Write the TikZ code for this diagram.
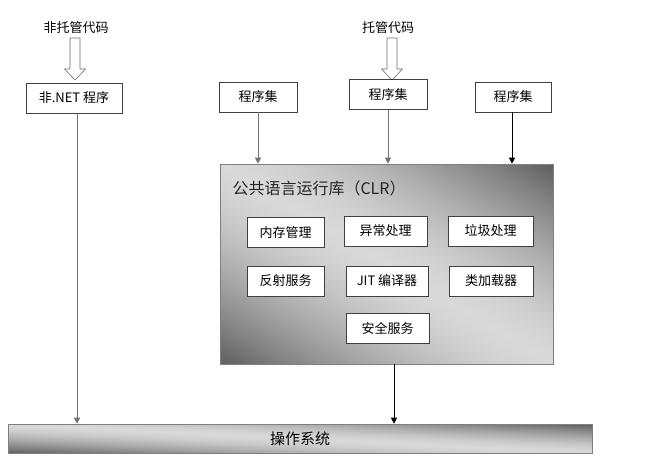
\documentclass[tikz,border=0pt]{standalone}
\usepackage{fontspec}
\setmainfont{Noto Sans CJK SC}
\usepackage{xcolor}
\usetikzlibrary{arrows.meta,positioning,calc,shadows}
\definecolor{archline}{RGB}{64,64,64}
% light along the falling diagonal, dark at the two other corners
\pgfdeclarefunctionalshading{archshade}{\pgfpointorigin}{\pgfpoint{100bp}{100bp}}{}{%
  add 100 sub 50 div abs 1.5 exp 0.48 mul 0.85 exch sub dup dup}
\begin{document}
\begin{tikzpicture}[x=1pt,y=-1pt,
  font=\fontsize{13}{15}\selectfont,
  box/.style={draw=archline,line width=.6pt,fill=white,inner sep=0pt,minimum height=30pt},
  layer/.style={draw=gray,line width=.6pt,shade,shading=archshade,shading angle=0,inner sep=0pt,
    drop shadow={shadow xshift=1.2pt,shadow yshift=-1.2pt,opacity=.25}},
  label/.style={inner sep=1pt},
  flow/.style={-{Triangle[length=6pt,width=6pt]},draw=black,line width=.6pt},
  softflow/.style={flow,draw=gray!90!black},
  hollow/.pic={\draw[draw=gray!85!black,fill=white,line width=.6pt]
    (-5,0)--(5,0)--(5,31)--(10.5,31)--(0,42)--(-10.5,31)--(-5,31)--cycle;}]

\path[use as bounding box] (0,0) rectangle (648,464);

% unmanaged side
\node[label] (umlabel) at (76,28) {非托管代码};
\node[box,minimum width=96pt] (netprog) at (74,98) {非.NET 程序};
\pic at (75,38) {hollow};

% managed side
\node[label] (mlabel) at (388,28) {托管代码};
\pic at (392,38) {hollow};
\node[box,minimum width=78pt] (asma) at (258,97) {程序集};
\node[box,minimum width=78pt] (asmb) at (388,94.5) {程序集};
\node[box,minimum width=76pt] (asmc) at (513,97) {程序集};

% runtime
\node[layer,minimum width=333pt,minimum height=200pt] (clr) at (386.5,264) {};
\node[anchor=west,font=\fontsize{16}{18}\selectfont,text=black!85] (clrtitle) at (229,188) {公共语言运行库（CLR）};
\node[box,minimum width=77pt] (memory) at (285.5,232.5) {内存管理};
\node[box,minimum width=83pt] (except) at (385.5,231) {异常处理};
\node[box,minimum width=85pt] (garbage) at (490.5,231) {垃圾处理};
\node[box,minimum width=77pt] (reflect) at (285.5,281) {反射服务};
\node[box,minimum width=82pt] (jit) at (387,281) {JIT 编译器};
\node[box,minimum width=84pt] (loader) at (491,281) {类加载器};
\node[box,minimum width=83pt] (security) at (387.5,328) {安全服务};

% operating system
\node[layer,minimum width=584pt,minimum height=29pt,font=\fontsize{15}{17}\selectfont] (os) at (300,438.5) {操作系统};

\draw[softflow] ([xshift=3pt]netprog.south) -- ([xshift=3pt]netprog.south |- os.north);
\draw[softflow] (asma.south) -- (asma.south |- clr.north);
\draw[softflow] (asmb.south) -- (asmb.south |- clr.north);
\draw[flow] ([xshift=-1pt]asmc.south) -- ([xshift=-1pt]asmc.south |- clr.north);
\draw[flow] ([xshift=7.5pt]clr.south) -- ([xshift=7.5pt]clr.south |- os.north);

\end{tikzpicture}
\end{document}
